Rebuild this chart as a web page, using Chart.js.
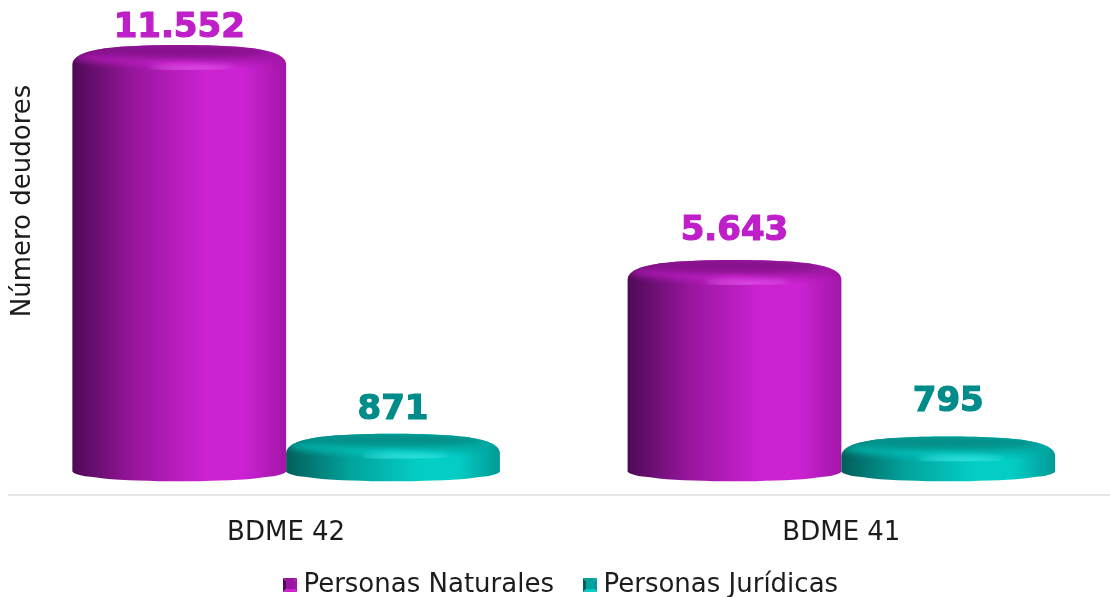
<!DOCTYPE html>
<html lang="es">
<head>
  <meta charset="UTF-8">
  <title>Número deudores</title>
  <script src="https://cdn.jsdelivr.net/npm/chart.js"></script>
  <style>
    html, body { margin: 0; padding: 0; background: #fff; overflow: hidden; width: 1110px; height: 597px; }
    canvas { display: block; }
  </style>
</head>
<body>
<canvas id="deudores" width="1119" height="608"></canvas>
<script>
  const categories = ['BDME 42', 'BDME 41'];
  const seriesNames = ['Personas Naturales', 'Personas Jurídicas'];
  const naturales = [11552, 5643];
  const juridicas = [871, 795];
  const yTitle = 'Número deudores';

  const purple = { dark: '#4e0a55', mid: '#9a169f', bright: '#cb22d2', edge: '#a316a8', face: '#87128c', glow: 'rgba(245,120,250,0.85)', label: '#bf1fc8' };
  const teal = { dark: '#035e5a', mid: '#02a39c', bright: '#04cdc6', edge: '#029a94', face: '#04908a', glow: 'rgba(90,250,245,0.9)', label: '#008c8a' };
  const labelLift = [[29, 41], [35, 46]]; // how far each value label sits over its bar

  function fmt(v) {
    return String(v).replace(/\B(?=(\d{3})+$)/g, '.');
  }

  function sideGradient(ctx, x, w, c) {
    const g = ctx.createLinearGradient(x, 0, x + w, 0);
    g.addColorStop(0, c.dark);
    g.addColorStop(0.3, c.mid);
    g.addColorStop(0.62, c.bright);
    g.addColorStop(0.8, c.bright);
    g.addColorStop(1, c.edge);
    return g;
  }

  function capPath(ctx, x, w, cy) {
    ctx.beginPath();
    ctx.moveTo(x, cy + 8);
    ctx.bezierCurveTo(x, cy - 6, x + w * 0.14, cy - 12, x + w / 2, cy - 12);
    ctx.bezierCurveTo(x + w * 0.86, cy - 12, x + w, cy - 6, x + w, cy + 8);
    ctx.bezierCurveTo(x + w, cy + 10, x + w * 0.8, cy + 13, x + w / 2, cy + 13);
    ctx.bezierCurveTo(x + w * 0.2, cy + 13, x, cy + 10, x, cy + 8);
    ctx.closePath();
  }

  function drawCylinder(ctx, bar, c) {
    const w = bar.width, x = bar.x - w / 2, cy = bar.y, bottom = bar.base - 6;

    ctx.save();
    ctx.fillStyle = sideGradient(ctx, x, w, c);
    ctx.beginPath();
    ctx.moveTo(x, cy + 8);
    ctx.lineTo(x + w, cy + 8);
    ctx.lineTo(x + w, bottom);
    ctx.ellipse(x + w / 2, bottom, w / 2, 10, 0, 0, Math.PI);
    ctx.closePath();
    ctx.fill();

    // rounded top: lit shoulder, darker inner face, small highlight at the front
    capPath(ctx, x, w, cy);
    ctx.fill();
    ctx.clip();
    const shoulder = ctx.createLinearGradient(x, 0, x + w, 0);
    shoulder.addColorStop(0, c.mid);
    shoulder.addColorStop(0.5, c.bright);
    shoulder.addColorStop(1, c.mid);
    ctx.fillStyle = shoulder;
    ctx.filter = 'blur(3px)';
    ctx.beginPath();
    ctx.ellipse(x + w / 2, cy, w * 0.5, 9, 0, 0, Math.PI * 2);
    ctx.fill();
    ctx.fillStyle = c.face;
    ctx.beginPath();
    ctx.ellipse(x + w / 2, cy - 6, w * 0.42, 8, 0, 0, Math.PI * 2);
    ctx.fill();
    ctx.fillStyle = c.glow;
    ctx.beginPath();
    ctx.ellipse(x + w * 0.56, cy + 11, w * 0.2, 2, 0, 0, Math.PI * 2);
    ctx.fill();
    ctx.restore();
  }

  const cylinders = {
    id: 'cylinders',
    // the big legend padding leaves the x axis a short box, keep its labels from being clipped
    afterLayout(chart) {
      chart.scales.x.bottom += 20;
    },
    afterDatasetsDraw(chart) {
      const ctx = chart.ctx;
      [purple, teal].forEach((c, i) => {
        chart.getDatasetMeta(i).data.forEach((bar, j) => {
          drawCylinder(ctx, bar, c);
          ctx.save();
          ctx.font = 'bold 34px "DejaVu Sans"';
          ctx.fillStyle = c.label;
          ctx.strokeStyle = c.label;
          ctx.lineWidth = 1.2;
          ctx.textAlign = 'center';
          ctx.textBaseline = 'middle';
          const txt = fmt(chart.data.datasets[i].data[j]);
          ctx.fillText(txt, bar.x, bar.y - labelLift[i][j]);
          ctx.strokeText(txt, bar.x, bar.y - labelLift[i][j]);
          ctx.restore();
        });
      });
      ctx.save();
      ctx.translate(23, 201);
      ctx.rotate(-Math.PI / 2);
      ctx.font = '26px "DejaVu Sans"';
      ctx.fillStyle = '#1c1c1c';
      ctx.textAlign = 'center';
      ctx.textBaseline = 'middle';
      ctx.fillText(yTitle, 0, 0);
      ctx.restore();
    }
  };

  function legendMark(c) {
    const s = 14, m = document.createElement('canvas');
    m.width = s; m.height = s;
    const g = m.getContext('2d');
    const tri = (col, pts) => {
      g.fillStyle = col;
      g.beginPath();
      pts.forEach((p, i) => i ? g.lineTo(p[0], p[1]) : g.moveTo(p[0], p[1]));
      g.closePath();
      g.fill();
    };
    const a = [0, 0], b = [s, 0], d = [s, s], e = [0, s], o = [s / 2, s / 2];
    tri(c.mid, [a, b, o]);
    tri(c.edge, [b, d, o]);
    tri(c.bright, [d, e, o]);
    tri(c.dark, [e, a, o]);
    g.fillStyle = c.mid;
    g.fillRect(3, 3, s - 6, s - 6);
    return m;
  }

  new Chart(document.getElementById('deudores'), {
    type: 'bar',
    data: {
      labels: categories,
      datasets: [
        { label: seriesNames[0], data: naturales, backgroundColor: 'transparent' },
        { label: seriesNames[1], data: juridicas, backgroundColor: 'transparent' }
      ]
    },
    options: {
      responsive: false,
      animation: false,
      categoryPercentage: 0.77,
      barPercentage: 1,
      layout: { padding: { left: 8.5, top: 0, right: 0, bottom: 0 } },
      scales: {
        x: {
          grid: { display: false, drawTicks: false },
          border: { color: '#e6e6e6', width: 2 },
          ticks: { color: '#1c1c1c', font: { family: '"DejaVu Sans"', size: 26 }, padding: 23 },
          afterFit(scale) { scale.height = 41.5; }
        },
        y: { display: false, min: -486, max: 13120 }
      },
      plugins: {
        tooltip: { enabled: false },
        legend: {
          position: 'bottom',
          labels: {
            usePointStyle: true,
            pointStyleWidth: 1,
            color: '#1c1c1c',
            font: { family: '"DejaVu Sans"', size: 26 },
            padding: 35.5,
            generateLabels: chart => chart.data.datasets.map((ds, i) => ({
              text: ds.label,
              pointStyle: legendMark(i ? teal : purple),
              fontColor: '#1c1c1c',
              fillStyle: 'transparent',
              strokeStyle: 'transparent',
              lineWidth: 0,
              datasetIndex: i
            }))
          }
        }
      }
    },
    plugins: [cylinders]
  });
</script>
</body>
</html>
